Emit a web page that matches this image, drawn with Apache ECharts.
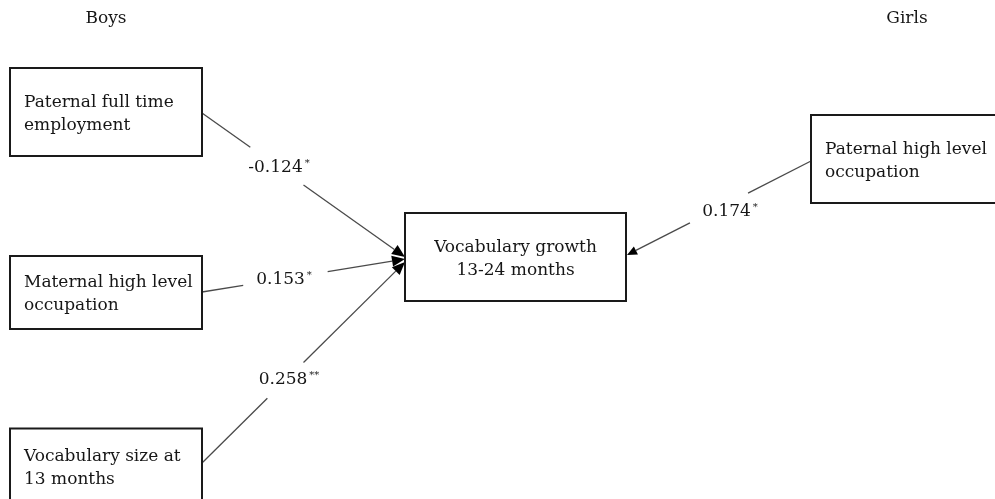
<!DOCTYPE html>
<html>
<head>
<meta charset="utf-8">
<script src="https://cdn.jsdelivr.net/npm/echarts@6/dist/echarts.min.js"></script>
<style>
html,body{margin:0;padding:0;background:#fff;}
#chart{width:995px;height:499px;}
</style>
</head>
<body>
<div id="chart"></div>
<script>
// ---- data ----
const groupTitles = ['Boys', 'Girls'];
const nodeNames = [
  'Paternal full time\nemployment',
  'Maternal high level\noccupation',
  'Vocabulary size at\n13 months',
  'Vocabulary growth\n13-24 months',
  'Paternal high level\noccupation'
];
const edgeSource = [0, 1, 2, 4];
const edgeTarget = [3, 3, 3, 3];
const coefficients = [-0.124, 0.153, 0.258, 0.174];
const significance = ['*', '*', '**', '*'];

// ---- layout (diagram coordinates, 995 x 499 space) ----
const titleLayout = [[106, 19], [907, 19]];
const nodeLayout = [
  { x: 106, y: 112, w: 192, h: 88, align: 'left' },
  { x: 106, y: 292.5, w: 192, h: 73, align: 'left' },
  { x: 106, y: 466, w: 192, h: 75, align: 'left' },
  { x: 515.5, y: 257, w: 221, h: 88, align: 'center' },
  { x: 907, y: 159, w: 192, h: 88, align: 'left' }
];
const edgeLayout = [
  { from: [202, 113], to: [405, 257], gap: [0.238, 0.5], label: [279, 168], arrow: [13, 5.5] },
  { from: [202, 292], to: [405, 259], gap: [0.203, 0.619], label: [284, 280], arrow: [13, 5.5] },
  { from: [202, 463], to: [405, 262], gap: [0.322, 0.5], label: [289, 380], arrow: [13, 5.5] },
  { from: [811, 161], to: [627, 255], gap: [0.342, 0.658], label: [730, 212], arrow: [10, 4.5] }
];

const FONT = 'DejaVu Serif';
const FS = 17;
const TEXT = '#161616';
const LINE = '#4a4a4a';

const chart = echarts.init(document.getElementById('chart'));

const nodeData = nodeNames.map((n, i) => {
  const L = nodeLayout[i];
  return { name: n, value: [L.x, L.y, L.w, L.h], align: L.align };
});
const edgeData = coefficients.map((c, i) => {
  const L = edgeLayout[i];
  return {
    name: nodeNames[edgeSource[i]] + ' -> ' + nodeNames[edgeTarget[i]],
    value: [L.from[0], L.from[1], L.to[0], L.to[1], L.gap[0], L.gap[1], L.label[0], L.label[1], c]
  };
});

const option = {
  animation: false,
  grid: { left: 0, right: 0, top: 0, bottom: 0 },
  xAxis: { type: 'value', min: 0, max: 995, show: false },
  yAxis: { type: 'value', min: 0, max: 499, inverse: true, show: false },
  graphic: groupTitles.map((t, i) => ({
    type: 'text', x: titleLayout[i][0], y: titleLayout[i][1],
    style: { text: t, font: FS + 'px "' + FONT + '"', fill: TEXT, align: 'center', verticalAlign: 'middle' }
  })),
  series: [
    {
      type: 'custom',
      name: 'edges',
      coordinateSystem: 'cartesian2d',
      data: edgeData,
      renderItem: function (params, api) {
        const i = params.dataIndex;
        const p0 = api.coord([api.value(0), api.value(1)]);
        const p1 = api.coord([api.value(2), api.value(3)]);
        const g0 = api.value(4), g1 = api.value(5);
        const lerp = t => [p0[0] + (p1[0] - p0[0]) * t, p0[1] + (p1[1] - p0[1]) * t];
        const dx = p1[0] - p0[0], dy = p1[1] - p0[1];
        const len = Math.hypot(dx, dy);
        const ux = dx / len, uy = dy / len;
        const al = edgeLayout[i].arrow[0], aw = edgeLayout[i].arrow[1];
        const base = [p1[0] - ux * al, p1[1] - uy * al];
        const poly = [p1, [base[0] - uy * aw, base[1] + ux * aw], [base[0] + uy * aw, base[1] - ux * aw]];
        const a = lerp(g0), b = lerp(g1);
        const lbl = api.coord([api.value(6), api.value(7)]);
        const txt = coefficients[i].toFixed(3);
        return {
          type: 'group',
          children: [
            { type: 'line', shape: { x1: p0[0], y1: p0[1], x2: a[0], y2: a[1] }, style: { stroke: LINE, lineWidth: 1.3 } },
            { type: 'line', shape: { x1: b[0], y1: b[1], x2: base[0], y2: base[1] }, style: { stroke: LINE, lineWidth: 1.3 } },
            { type: 'polygon', shape: { points: poly }, style: { fill: '#000' } },
            {
              type: 'text', x: lbl[0], y: lbl[1],
              style: {
                text: '{n|' + txt + '}{s|' + significance[i] + '}',
                align: 'center', verticalAlign: 'middle',
                rich: {
                  n: { font: FS + 'px "' + FONT + '"', fill: TEXT, lineHeight: 20 },
                  s: { font: '10px "' + FONT + '"', fill: TEXT, lineHeight: 20, verticalAlign: 'top', padding: [0, 0, 0, 2] }
                }
              }
            }
          ]
        };
      },
      z: 2
    },
    {
      type: 'custom',
      name: 'nodes',
      coordinateSystem: 'cartesian2d',
      data: nodeData,
      renderItem: function (params, api) {
        const c = api.coord([api.value(0), api.value(1)]);
        const s = api.size([api.value(2), api.value(3)]);
        const item = nodeData[params.dataIndex];
        const left = c[0] - s[0] / 2, top = c[1] - s[1] / 2;
        const isLeft = item.align === 'left';
        return {
          type: 'group',
          children: [
            { type: 'rect', shape: { x: left, y: top, width: s[0], height: s[1] },
              style: { fill: '#fff', stroke: '#1a1a1a', lineWidth: 2 } },
            { type: 'text', x: isLeft ? left + 14 : c[0], y: c[1] + 2,
              style: { text: item.name, font: FS + 'px "' + FONT + '"', fill: TEXT,
                align: isLeft ? 'left' : 'center', verticalAlign: 'middle', lineHeight: 23 } }
          ]
        };
      },
      z: 3
    }
  ]
};
chart.setOption(option);
</script>
</body>
</html>
